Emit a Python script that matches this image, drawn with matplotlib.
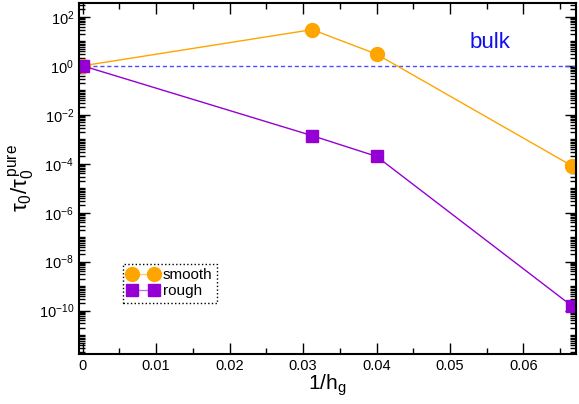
import numpy as np
import matplotlib
matplotlib.use('Agg')
import matplotlib.pyplot as plt
from matplotlib.ticker import FixedLocator, NullFormatter, MultipleLocator, FuncFormatter

plt.rcParams['font.family'] = ['Liberation Sans', 'DejaVu Sans']
plt.rcParams['mathtext.fontset'] = 'custom'
plt.rcParams['mathtext.rm'] = 'Liberation Sans'
plt.rcParams['mathtext.it'] = 'Liberation Sans'
plt.rcParams['mathtext.default'] = 'regular'

# data
inv_h = [0.0, 1/32., 1/25., 1/15.]
smooth = [1.0, 30.0, 3.0, 8e-5]
rough = [1.0, 1.4e-3, 2.0e-4, 1.5e-10]
bulk = 1.0

fig = plt.figure(figsize=(5.79, 4.04), dpi=100)
ax = fig.add_axes([0.1364, 0.1238, 0.859, 0.869])

ax.axhline(bulk, color='#4d4dff', lw=1.0, ls=(0, (3, 2)))
ax.plot(inv_h, smooth, color='orange', lw=1, marker='o', ms=10, label='smooth')
ax.plot(inv_h, rough, color='#9400d3', lw=1, marker='s', ms=8, label='rough')
ax.text(0.0554, 8.7, 'bulk', color='#1010ee', fontsize=16, ha='center', va='center')

ymin, ymax = 1.7e-12, 370
ax.set_yscale('log')
ax.set_xlim(-0.0005, 0.0672)
ax.set_ylim(ymin, ymax)
ax.xaxis.set_major_locator(MultipleLocator(0.01))
ax.xaxis.set_minor_locator(MultipleLocator(0.005))
ax.xaxis.set_major_formatter(FuncFormatter(lambda t, p: '0' if abs(t) < 1e-9 else '%g' % round(t, 3)))
majors = [10.0**e for e in range(-10, 3, 2)]
minors = [m * 10.0**e for e in range(-12, 3) for m in range(1, 10)]
minors = [v for v in minors if ymin <= v <= ymax and v not in majors]
ax.yaxis.set_major_locator(FixedLocator(majors))
ax.yaxis.set_minor_locator(FixedLocator(minors))
ax.yaxis.set_major_formatter(FuncFormatter(lambda v, p: r'$10^{%d}$' % round(np.log10(v))))
ax.yaxis.set_minor_formatter(NullFormatter())

ax.tick_params(which='both', direction='in', top=True, right=True, labelsize=10.5)
ax.tick_params(which='major', length=8, width=1)
ax.tick_params(which='minor', length=4, width=1)
for s in ax.spines.values():
    s.set_linewidth(1.5)

ax.set_xlabel(r'1/h$_g$', fontsize=15, labelpad=0)
ax.set_ylabel(r'$\tau_0/\tau_0^{\,pure}$', fontsize=16, labelpad=2)

leg = ax.legend(loc='lower left', bbox_to_anchor=(0.0885, 0.145), borderaxespad=0,
                fontsize=11, handlelength=2.0, borderpad=0.3, labelspacing=0.15,
                handletextpad=0.3, fancybox=False, framealpha=1, edgecolor='black',
                numpoints=2)
leg.get_frame().set_linestyle(':')
leg.get_frame().set_linewidth(1)
for h in leg.legend_handles:
    c = h.get_markerfacecolor()
    h.set_color(matplotlib.colors.to_rgba(c, 0.55))
    h.set_markerfacecolor(matplotlib.colors.to_rgba(c, 1.0))
    h.set_markeredgecolor(matplotlib.colors.to_rgba(c, 1.0))

fig.savefig('out.png', dpi=100)
